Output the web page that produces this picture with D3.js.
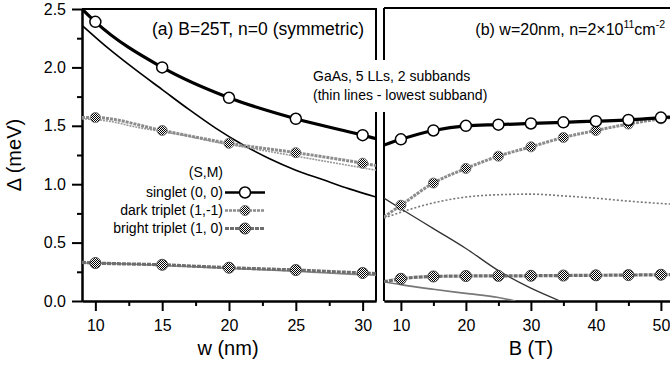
<!DOCTYPE html>
<html>
<head>
<meta charset="utf-8">
<script src="https://cdn.jsdelivr.net/npm/d3@7/dist/d3.min.js"></script>
<style>
  html, body { margin: 0; padding: 0; background: #fff; }
  svg { display: block; }
</style>
</head>
<body>
<script>
// ---------------- DATA ----------------
// Panel (a): B=25T, n=0, versus well width w (nm)
const wLine          = [9, 10, 15, 20, 25, 30, 31];
const singletThickW  = [2.50, 2.39, 2.00, 1.74, 1.56, 1.42, 1.39];
const darkThickW     = [1.57, 1.57, 1.46, 1.35, 1.27, 1.18, 1.16];
const brightThickW   = [0.33, 0.325, 0.31, 0.285, 0.265, 0.24, 0.235];
const wMarkers       = [10, 15, 20, 25, 30];
const singletMarkW   = [2.39, 2.00, 1.74, 1.56, 1.42];
const darkMarkW      = [1.57, 1.46, 1.35, 1.27, 1.18];
const brightMarkW    = [0.325, 0.31, 0.285, 0.265, 0.24];
// thin lines (lowest subband), panel (a)
const wThin          = [9, 11, 13, 15, 17, 19, 21, 23, 25, 27, 29, 31];
const singletThinW   = [2.36, 2.16, 1.98, 1.81, 1.64, 1.48, 1.34, 1.22, 1.12, 1.04, 0.96, 0.89];
const darkThinW      = [1.56, 1.54, 1.49, 1.45, 1.41, 1.36, 1.32, 1.28, 1.24, 1.20, 1.16, 1.12];
const brightThinW    = [0.325, 0.322, 0.315, 0.305, 0.295, 0.285, 0.275, 0.265, 0.255, 0.242, 0.23, 0.22];

// Panel (b): w=20nm, n=2e11 cm^-2, versus B (T)
const bLine          = [7.4, 10, 15, 20, 25, 30, 35, 40, 45, 50, 51.4];
const singletThickB  = [1.335, 1.384, 1.46, 1.50, 1.51, 1.52, 1.53, 1.54, 1.55, 1.57, 1.575];
const darkThickB     = [0.72, 0.82, 1.01, 1.135, 1.24, 1.32, 1.40, 1.46, 1.515, 1.56, 1.57];
const brightThickB   = [0.165, 0.19, 0.21, 0.214, 0.215, 0.216, 0.218, 0.22, 0.222, 0.225, 0.226];
const bMarkers       = [10, 15, 20, 25, 30, 35, 40, 45, 50];
const singletMarkB   = [1.384, 1.46, 1.50, 1.51, 1.52, 1.53, 1.54, 1.55, 1.57];
const darkMarkB      = [0.82, 1.01, 1.135, 1.24, 1.32, 1.40, 1.46, 1.515, 1.56];
const brightMarkB    = [0.19, 0.21, 0.214, 0.215, 0.216, 0.218, 0.22, 0.222, 0.225];
// thin lines (lowest subband), panel (b)
const bThinDark      = [7.4, 10, 15, 20, 25, 30, 35, 40, 45, 50, 51.4];
const darkThinB      = [0.71, 0.76, 0.84, 0.89, 0.91, 0.915, 0.90, 0.88, 0.855, 0.835, 0.83];
const bThinSinglet   = [7.4, 10, 15, 20, 25, 30, 34.5];
const singletThinB   = [0.88, 0.79, 0.62, 0.45, 0.26, 0.11, 0.0];
const bThinBright    = [7.4, 10, 15, 20, 25, 27.6];
const brightThinB    = [0.165, 0.14, 0.10, 0.065, 0.03, 0.0];

// axis ticks
const yMajor  = [0, 0.5, 1.0, 1.5, 2.0, 2.5];
const yMinor  = [0.25, 0.75, 1.25, 1.75, 2.25];
const wMajor  = [10, 15, 20, 25, 30];
const wMinor  = [12.5, 17.5, 22.5, 27.5];
const bMajor  = [10, 20, 30, 40, 50];
const bMinor  = [15, 25, 35, 45];

const legendLabels = ["singlet (0, 0)", "dark triplet (1,-1)", "bright triplet (1, 0)"];

// ---------------- DRAW ----------------
const FONT = "'Liberation Sans', Arial, Helvetica, sans-serif";
const W = 670, H = 365;
const svg = d3.select("body").append("svg").attr("width", W).attr("height", H)
  .attr("font-family", FONT);

const defs = svg.append("defs");
const pat = defs.append("pattern").attr("id", "checker")
  .attr("width", 2).attr("height", 2).attr("patternUnits", "userSpaceOnUse");
pat.append("rect").attr("width", 2).attr("height", 2).attr("fill", "#fff");
pat.append("rect").attr("width", 1).attr("height", 1).attr("fill", "#000");
pat.append("rect").attr("x", 1).attr("y", 1).attr("width", 1).attr("height", 1).attr("fill", "#000");

const y  = d3.scaleLinear().domain([0, 2.5]).range([301, 9]);
const xL = d3.scaleLinear().domain([9, 31]).range([82, 376]);
const xR = d3.scaleLinear().domain([7.4, 51.4]).range([384, 670]);

defs.append("clipPath").attr("id", "clipL").append("rect")
  .attr("x", xL.range()[0]).attr("y", y.range()[1])
  .attr("width", xL.range()[1] - xL.range()[0]).attr("height", y.range()[0] - y.range()[1]);
defs.append("clipPath").attr("id", "clipR").append("rect")
  .attr("x", xR.range()[0]).attr("y", y.range()[1] - 1)
  .attr("width", xR.range()[1] - xR.range()[0]).attr("height", y.range()[0] - y.range()[1] + 1);

function styleAxis(g) {
  g.select(".domain").attr("stroke-width", 2).attr("stroke", "#000");
  g.selectAll(".tick line").attr("stroke-width", 2).attr("stroke", "#000");
  g.selectAll(".tick text").attr("font-size", 16).attr("font-family", FONT).attr("fill", "#000");
}

// Left panel axes
svg.append("g").attr("transform", `translate(0,${y.range()[0]})`)
  .call(d3.axisBottom(xL).tickValues(wMinor).tickSize(5).tickSizeOuter(0).tickFormat(""))
  .call(styleAxis);
svg.append("g").attr("transform", `translate(0,${y.range()[0]})`)
  .call(d3.axisBottom(xL).tickValues(wMajor).tickSize(10).tickSizeOuter(0).tickPadding(9).tickFormat(d3.format("d")))
  .call(styleAxis);
svg.append("g").attr("transform", `translate(${xL.range()[0]},0)`)
  .call(d3.axisLeft(y).tickValues(yMinor).tickSize(5).tickSizeOuter(0).tickFormat(""))
  .call(styleAxis);
svg.append("g").attr("transform", `translate(${xL.range()[0]},0)`)
  .call(d3.axisLeft(y).tickValues(yMajor).tickSize(10).tickSizeOuter(0).tickPadding(6).tickFormat(d3.format(".1f")))
  .call(styleAxis);

// Right panel axes
svg.append("g").attr("transform", `translate(0,${y.range()[0]})`)
  .call(d3.axisBottom(xR).tickValues(bMinor).tickSize(5).tickSizeOuter(0).tickFormat(""))
  .call(styleAxis);
svg.append("g").attr("transform", `translate(0,${y.range()[0]})`)
  .call(d3.axisBottom(xR).tickValues(bMajor).tickSize(10).tickSizeOuter(0).tickPadding(9).tickFormat(d3.format("d")))
  .call(styleAxis);

// Frames (top and inner borders), with a gap for the annotation
const gapTop = 60, gapBot = 112;
const frame = svg.append("g").attr("stroke", "#000").attr("stroke-width", 2).attr("fill", "none");
frame.append("line").attr("x1", xL.range()[0]).attr("x2", xL.range()[1]).attr("y1", y.range()[1]).attr("y2", y.range()[1]);
frame.append("line").attr("x1", xR.range()[0]).attr("x2", xR.range()[1]).attr("y1", y.range()[1] - 1).attr("y2", y.range()[1] - 1);
[xL.range()[1], xR.range()[0]].forEach(xx => {
  frame.append("line").attr("x1", xx).attr("x2", xx).attr("y1", y.range()[1] - 1).attr("y2", gapTop);
  frame.append("line").attr("x1", xx).attr("x2", xx).attr("y1", gapBot).attr("y2", y.range()[0]);
});

// line generators
function lineGen(xs) {
  return d3.line().x(d => xs(d[0])).y(d => y(d[1])).curve(d3.curveMonotoneX);
}
const zip = (a, b) => a.map((v, i) => [v, b[i]]);

function drawPanel(clipId, xs, thin, thick, marks) {
  const g = svg.append("g").attr("clip-path", `url(#${clipId})`);
  const lg = lineGen(xs);
  thin.concat(thick).forEach(t => {
    g.append("path").attr("d", lg(t.data)).attr("fill", "none")
      .attr("stroke", t.color).attr("stroke-width", t.width)
      .attr("stroke-dasharray", t.dash || null);
  });
  marks.forEach(m => {
    g.selectAll(null).data(m.data).enter().append("circle")
      .attr("cx", d => xs(d[0])).attr("cy", d => y(d[1])).attr("r", m.r)
      .attr("fill", m.fill).attr("stroke", m.stroke).attr("stroke-width", m.sw);
  });
}

const DARK_STYLE   = { color: "#8c8c8c", width: 3, dash: "3,1" };
const BRIGHT_STYLE = { color: "#6e6e6e", width: 3.2, dash: "4,1" };

drawPanel("clipL", xL,
  [
    { data: zip(wThin, singletThinW), color: "#000", width: 1.6 },
    { data: zip(wThin, darkThinW), color: "#999", width: 1.6, dash: "2,1" },
    { data: zip(wThin, brightThinW), color: "#888", width: 1.6 }
  ],
  [
    { data: zip(wLine, darkThickW), ...DARK_STYLE },
    { data: zip(wLine, brightThickW), ...BRIGHT_STYLE },
    { data: zip(wLine, singletThickW), color: "#000", width: 3.2 }
  ],
  [
    { data: zip(wMarkers, darkMarkW), r: 5, fill: "url(#checker)", stroke: "#777", sw: 1 },
    { data: zip(wMarkers, brightMarkW), r: 5.5, fill: "url(#checker)", stroke: "#444", sw: 1 },
    { data: zip(wMarkers, singletMarkW), r: 5.5, fill: "#fff", stroke: "#000", sw: 1.5 }
  ]);

drawPanel("clipR", xR,
  [
    { data: zip(bThinDark, darkThinB), color: "#777", width: 1.6, dash: "2,2" },
    { data: zip(bThinSinglet, singletThinB), color: "#333", width: 1.3 },
    { data: zip(bThinBright, brightThinB), color: "#777", width: 1.6 }
  ],
  [
    { data: zip(bLine, darkThickB), ...DARK_STYLE },
    { data: zip(bLine, brightThickB), ...BRIGHT_STYLE },
    { data: zip(bLine, singletThickB), color: "#000", width: 3.2 }
  ],
  [
    { data: zip(bMarkers, darkMarkB), r: 5, fill: "url(#checker)", stroke: "#777", sw: 1 },
    { data: zip(bMarkers, brightMarkB), r: 5.5, fill: "url(#checker)", stroke: "#444", sw: 1 },
    { data: zip(bMarkers, singletMarkB), r: 5.5, fill: "#fff", stroke: "#000", sw: 1.5 }
  ]);

// Titles
svg.append("text").attr("x", 364).attr("y", 35).attr("text-anchor", "end")
  .attr("font-size", 17.5).text("(a) B=25T, n=0 (symmetric)");
const tb = svg.append("text").attr("x", 665).attr("y", 35).attr("font-size", 16)
  .attr("text-anchor", "end");
tb.append("tspan").text("(b) w=20nm, n=2\u00D710");
tb.append("tspan").attr("font-size", 10.5).attr("dy", -7).text("11");
tb.append("tspan").attr("dy", 7).text("cm");
tb.append("tspan").attr("font-size", 10.5).attr("dy", -7).text("-2");

// Annotation
const ann = svg.append("text").attr("font-size", 14);
ann.append("tspan").attr("x", 313).attr("y", 81).text("GaAs, 5 LLs, 2 subbands");
ann.append("tspan").attr("x", 313).attr("y", 100).text("(thin lines - lowest subband)");

// Axis titles
svg.append("text").attr("x", (xL.range()[0] + xL.range()[1]) / 2 - 1).attr("y", 355)
  .attr("text-anchor", "middle").attr("font-size", 20).text("w (nm)");
svg.append("text").attr("x", xR(30)).attr("y", 355)
  .attr("text-anchor", "middle").attr("font-size", 20).text("B (T)");
svg.append("text").attr("transform", `translate(21,${(y.range()[0] + y.range()[1]) / 2}) rotate(-90)`)
  .attr("text-anchor", "middle").attr("font-size", 20).text("\u0394  (meV)");

// Legend
const legX = 223, legLine0 = 225, legLine1 = 265;
svg.append("text").attr("x", legX).attr("y", 177).attr("text-anchor", "end")
  .attr("font-size", 14).text("(S,M)");
const legRows = [
  { y: 197, line: { color: "#000", width: 2.5 }, mark: { r: 5.5, fill: "#fff", stroke: "#000", sw: 1.5 } },
  { y: 215, line: { color: "#8c8c8c", width: 2.5, dash: "3,1" }, mark: { r: 5, fill: "url(#checker)", stroke: "#777", sw: 1 } },
  { y: 233, line: { color: "#6e6e6e", width: 3, dash: "4,1" }, mark: { r: 5.5, fill: "url(#checker)", stroke: "#444", sw: 1 } }
];
legRows.forEach((r, i) => {
  svg.append("text").attr("x", legX).attr("y", r.y).attr("text-anchor", "end")
    .attr("font-size", 14).text(legendLabels[i]);
  const cy = r.y - 4.5;
  svg.append("line").attr("x1", legLine0).attr("x2", legLine1).attr("y1", cy).attr("y2", cy)
    .attr("stroke", r.line.color).attr("stroke-width", r.line.width)
    .attr("stroke-dasharray", r.line.dash || null);
  svg.append("circle").attr("cx", (legLine0 + legLine1) / 2).attr("cy", cy).attr("r", r.mark.r)
    .attr("fill", r.mark.fill).attr("stroke", r.mark.stroke).attr("stroke-width", r.mark.sw);
});
</script>
</body>
</html>
